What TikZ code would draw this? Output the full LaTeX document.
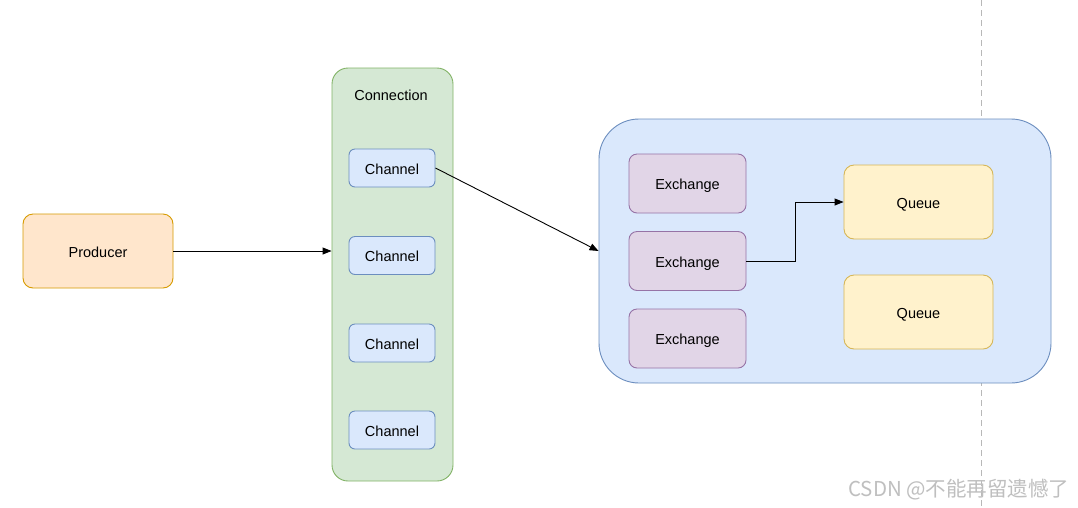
\documentclass[tikz,border=0pt]{standalone}
\usepackage{fontspec}
\setmainfont{Liberation Sans}
\newfontfamily\cjk{Noto Sans CJK SC}
\usetikzlibrary{arrows.meta}
\definecolor{prodfill}{HTML}{FFE6CC}\definecolor{prodline}{HTML}{D79B00}
\definecolor{grnfill}{HTML}{D5E8D4}\definecolor{grnline}{HTML}{82B366}
\definecolor{blufill}{HTML}{DAE8FC}\definecolor{bluline}{HTML}{6C8EBF}
\definecolor{purfill}{HTML}{E1D5E7}\definecolor{purline}{HTML}{9673A6}
\definecolor{yelfill}{HTML}{FFF2CC}\definecolor{yelline}{HTML}{D6B656}
\tikzset{
  box/.style={draw, line width=0.9pt, rounded corners=#1, inner sep=0pt, font=\fontsize{14.5}{16}\selectfont, text height=12.5pt, text depth=0pt},
  prod/.style={box=10pt, fill=prodfill, draw=prodline, minimum width=150pt, minimum height=74pt},
  conn/.style={box=16pt, fill=grnfill, draw=grnline, minimum width=121pt, minimum height=413pt},
  chan/.style={box=6pt, fill=blufill, draw=bluline, minimum width=86pt, minimum height=38pt},
  broker/.style={box=40pt, fill=blufill, draw=bluline, minimum width=452pt, minimum height=264pt},
  exch/.style={box=8pt, fill=purfill, draw=purline, minimum width=117pt, minimum height=59pt},
  que/.style={box=10pt, fill=yelfill, draw=yelline, minimum width=149pt, minimum height=74pt},
  arr/.style={-{Triangle[length=9pt,width=7pt]}, line width=0.9pt, black},
}
\begin{document}
\begin{tikzpicture}[x=1pt,y=-1pt]
\useasboundingbox (0,0) rectangle (1078,507);
\fill[white] (0,0) rectangle (1078,507);
% dashed line
\coordinate (dtop) at (981,0);
\coordinate (dbot) at (981,507);
\draw[dashed, color=black!28, line width=0.9pt, dash pattern=on 6pt off 4pt] (dtop) -- (dbot);
% nodes
\node[prod] (producer) at (98,251) {Producer};
\node[conn] (connection) at (392.5,274.5) {};
\node[font=\fontsize{14.5}{16}\selectfont, text height=12.5pt, text depth=0pt, inner sep=0pt] (conntitle) at (391,94) {Connection};
\node[chan] (ch1) at (392,168) {Channel};
\node[chan] (ch2) at (392,255.5) {Channel};
\node[chan] (ch3) at (392,343) {Channel};
\node[chan] (ch4) at (392,430) {Channel};
\node[broker] (broker) at (825,251) {};
\node[exch] (ex1) at (687.5,183.5) {Exchange};
\node[exch] (ex2) at (687.5,261) {Exchange};
\node[exch] (ex3) at (687.5,338.5) {Exchange};
\node[que] (q1) at (918.5,202) {Queue};
\node[que] (q2) at (918.5,312) {Queue};
% connectors
\draw[arr] (producer.east) -- (producer.east -| connection.west);
\draw[arr] (ch1.east) -- (broker.west);
\draw[arr] (ex2.east) -- (795,261) |- (q1.west);
% watermark
\node[anchor=east, text=black!25, font=\cjk\fontsize{20.5}{22}\selectfont] (wm) at (1073,490) {CSDN @不能再留遗憾了};
\end{tikzpicture}
\end{document}
